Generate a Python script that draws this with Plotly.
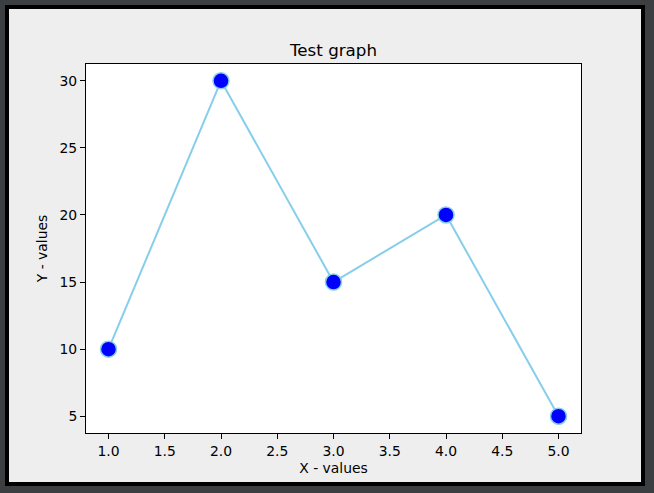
import plotly.graph_objects as go

x_values = [1, 2, 3, 4, 5]
y_values = [10, 30, 15, 20, 5]
x_ticks = [1.0, 1.5, 2.0, 2.5, 3.0, 3.5, 4.0, 4.5, 5.0]
x_tick_labels = ["1.0", "1.5", "2.0", "2.5", "3.0", "3.5", "4.0", "4.5", "5.0"]
y_ticks = [5, 10, 15, 20, 25, 30]
y_tick_labels = ["5", "10", "15", "20", "25", "30"]

W, H = 654, 493
L, R, T, B = 86, 73, 64, 60
pw, ph = W - L - R, H - T - B

def px_to_paper_x(px):
    return (px - L) / pw

def px_to_paper_y(py):
    return (H - B - py) / ph

fig = go.Figure()
fig.add_trace(go.Scatter(
    x=x_values, y=y_values, mode="lines+markers",
    line=dict(color="#87ceeb", width=2),
    marker=dict(color="#0000ff", size=16, line=dict(color="#87ceeb", width=1.5)),
    showlegend=False, cliponaxis=False, hoverinfo="skip",
))

font = "DejaVu Sans"
fs = 13.9
fig.update_layout(
    width=W, height=H,
    margin=dict(l=L, r=R, t=T, b=B, pad=0),
    paper_bgcolor="#3c3f41",
    plot_bgcolor="rgba(0,0,0,0)",
    font=dict(family=font, size=fs, color="black"),
    title=dict(text="Test graph", x=0.5, xref="paper", xanchor="center",
               y=1, yref="paper", yanchor="bottom", pad=dict(b=8),
               font=dict(family=font, size=16.7, color="black")),
    shapes=[
        dict(type="rect", xref="paper", yref="paper", layer="below",
             x0=px_to_paper_x(7), x1=px_to_paper_x(643),
             y0=px_to_paper_y(484), y1=px_to_paper_y(7),
             line=dict(color="black", width=4), fillcolor="#eeeeee"),
        dict(type="rect", xref="paper", yref="paper", layer="below",
             x0=0, x1=1, y0=0, y1=1,
             line=dict(width=0), fillcolor="white"),
    ],
)
fig.update_xaxes(
    range=[0.8, 5.2], tickvals=x_ticks, ticktext=x_tick_labels,
    showgrid=False, zeroline=False,
    showline=True, linecolor="black", linewidth=1, mirror=True,
    ticks="outside", ticklen=5, tickcolor="black", tickwidth=1,
    title=dict(text="X - values", standoff=5, font=dict(family=font, size=fs)),
)
fig.update_yaxes(
    range=[3.75, 31.25], tickvals=y_ticks, ticktext=y_tick_labels,
    showgrid=False, zeroline=False,
    showline=True, linecolor="black", linewidth=1, mirror=True,
    ticks="outside", ticklen=5, tickcolor="black", tickwidth=1,
    title=dict(text="Y - values", standoff=8, font=dict(family=font, size=fs)),
)
fig.write_html(
    "out.html",
    config={"displayModeBar": False},
    post_script="document.body.style.margin='0';document.body.style.background='#3c3f41';",
)
